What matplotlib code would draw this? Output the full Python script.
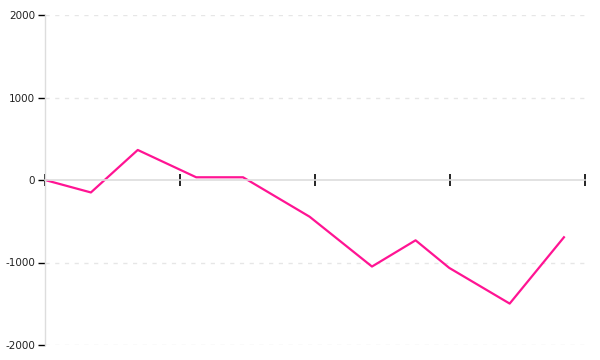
import matplotlib
matplotlib.use("Agg")
import matplotlib.pyplot as plt

x_vals = [0, 0.34, 0.687, 1.12, 1.467, 1.96, 2.422, 2.745, 2.994, 3.442, 3.844]
y_vals = [0, -151, 364, 33, 33, -445, -1049, -731, -1065, -1498, -694]
y_ticks = [-2000, -1000, 0, 1000, 2000]
x_ticks = [0, 1, 2, 3, 4]

fig = plt.figure(figsize=(6, 3.6), dpi=100)
ax = fig.add_axes([45/600, 15/360, 540/600, 330/360])
ax.set_xlim(0, 4)
ax.set_ylim(-2000, 2000)

for g in y_ticks:
    if g != 0:
        ax.axhline(g, color="#e6e6e6", lw=1, ls=(0, (3, 4)), zorder=0)

ax.plot(x_vals, y_vals, color="#ff1493", lw=1.6, zorder=2)

for s in ["top", "right"]:
    ax.spines[s].set_visible(False)
ax.spines["left"].set_color("#dddddd")
ax.spines["left"].set_linewidth(1)
ax.spines["bottom"].set_position(("data", 0))
ax.spines["bottom"].set_color("#dddddd")
ax.spines["bottom"].set_linewidth(1.2)

ax.set_xticks(x_ticks)
ax.set_xticklabels([])
ax.tick_params(axis="x", direction="inout", length=8, width=1.2, color="black")
ax.set_yticks(y_ticks)
ax.set_yticklabels([str(v) for v in y_ticks])
ax.tick_params(axis="y", direction="out", length=5, width=1, color="black",
               labelsize=7.5, labelcolor="#222222", pad=2)

fig.savefig("out.png", dpi=100)
